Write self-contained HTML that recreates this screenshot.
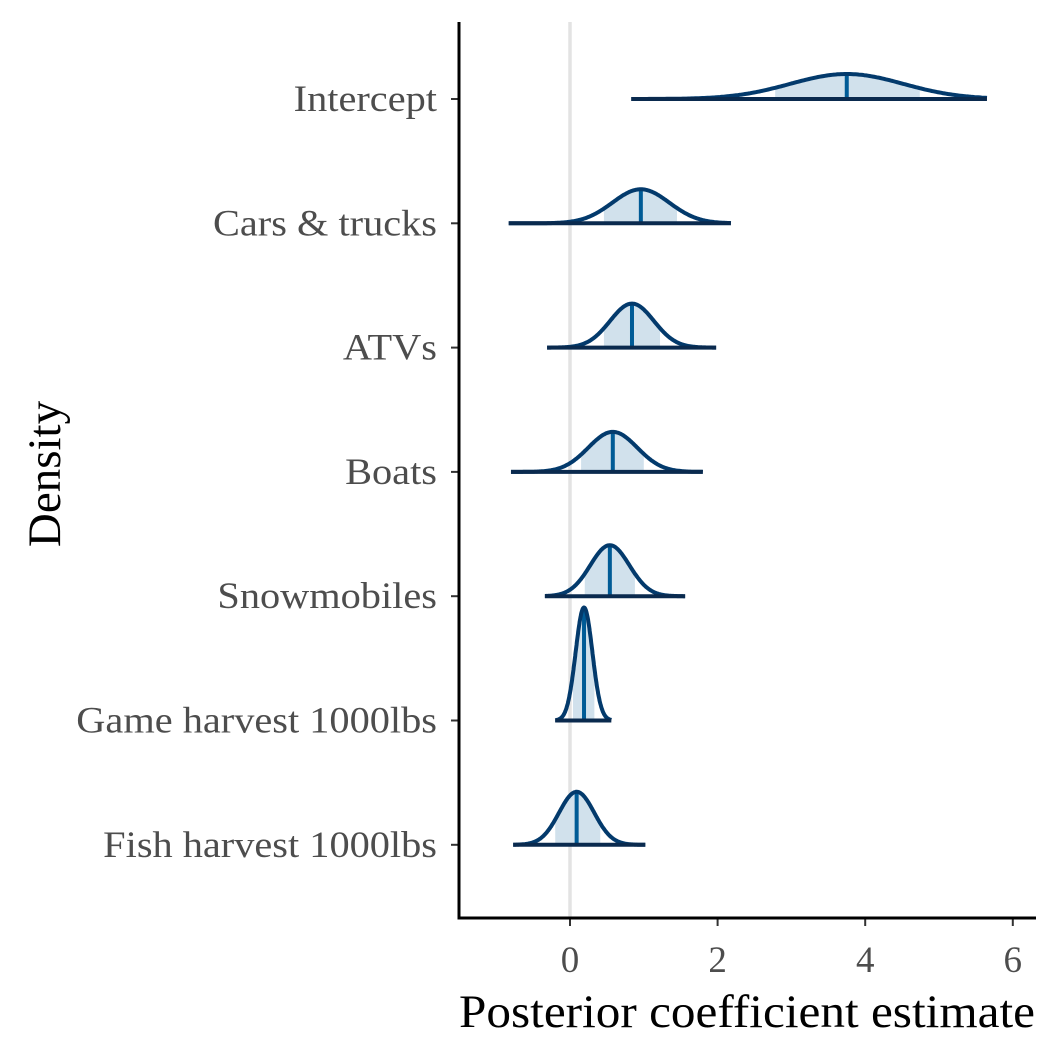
<!DOCTYPE html>
<html><head><meta charset="utf-8"><style>
html,body{margin:0;padding:0;background:#fff;width:1062px;height:1062px;overflow:hidden}
text{font-family:"Liberation Serif",serif}
</style></head><body>
<svg id="chart" width="1062" height="1062" viewBox="0 0 1062 1062" xmlns="http://www.w3.org/2000/svg">
<g id="grid"></g><g id="ridges"></g><g id="axes"></g>
</svg>
<script>
const categories = ["Intercept","Cars & trucks","ATVs","Boats","Snowmobiles","Game harvest 1000lbs","Fish harvest 1000lbs"];
const medians = [3.75, 0.96, 0.84, 0.58, 0.54, 0.19, 0.09];
const lower80 = [2.78, 0.46, 0.46, 0.15, 0.20, 0.04, -0.20];
const upper80 = [4.74, 1.45, 1.22, 1.00, 0.88, 0.33, 0.41];
const mins = [0.83, -0.83, -0.31, -0.80, -0.34, -0.20, -0.77];
const maxs = [5.65, 2.18, 1.98, 1.80, 1.56, 0.56, 1.02];
const peakHeights = [25, 34, 44, 40, 51, 113, 53];
const xTicks = [0, 2, 4, 6];

const NS = "http://www.w3.org/2000/svg";
const x = v => 570 + v * 73.8;
const y = i => 99 + i * 124.3;
function mk(tag, attrs, parent){const e=document.createElementNS(NS,tag);for(const k in attrs)e.setAttribute(k,attrs[k]);parent.appendChild(e);return e;}
const grid=document.getElementById('grid'), ridges=document.getElementById('ridges'), axes=document.getElementById('axes');

let z=mk('line',{x1:x(0),x2:x(0),y1:22,y2:918,stroke:'#e3e3e3','stroke-width':3.5},grid);



categories.forEach((c,i)=>{
  const m=medians[i], sd=(upper80[i]-lower80[i])/2.56, h=peakHeights[i], b=y(i);
  const dens=v=>h*Math.exp(-0.5*Math.pow((v-m)/sd,2));
  const g=mk('g',{},ridges);
  
  
  let fp='M'+x(lower80[i])+','+b;
  for(let k=0;k<=80;k++){const v=lower80[i]+(upper80[i]-lower80[i])*k/80;fp+=' L'+x(v).toFixed(1)+','+(b-dens(v)).toFixed(1);}
  fp+=' L'+x(upper80[i])+','+b+' Z';
  const f=mk('path',{d:fp,fill:'#d1e1ec'},g);
  
  
  const ml=mk('line',{x1:x(m),x2:x(m),y1:b,y2:b-dens(m),stroke:'#005b96','stroke-width':4},g);
  
  
  let op='';
  for(let k=0;k<=200;k++){const v=mins[i]+(maxs[i]-mins[i])*k/200;op+=(k?' L':'M')+x(v).toFixed(1)+','+(b-dens(v)).toFixed(1);}
  const o=mk('path',{d:op,fill:'none',stroke:'#033a6c','stroke-width':4,'stroke-linejoin':'round'},g);
  
  
  const bl=mk('line',{x1:x(mins[i]),x2:x(maxs[i]),y1:b,y2:b,stroke:'#0a2a4e','stroke-width':4},g);
  
  
  const t=mk('line',{x1:451,x2:459,y1:b,y2:b,stroke:'#333','stroke-width':2},axes);
  
  
  const lb=mk('text',{x:437,y:b+12,'text-anchor':'end','font-size':37,fill:'#4d4d4d'},axes);
  lb.textContent=c;
  
  
  const w=lb.getComputedTextLength();
  lb.setAttribute('textLength',(w*1.09).toFixed(1));
  lb.setAttribute('lengthAdjust','spacingAndGlyphs');
});

xTicks.forEach(v=>{
  const t=mk('line',{x1:x(v),x2:x(v),y1:918,y2:926,stroke:'#333','stroke-width':2},axes);
  
  
  const lb=mk('text',{x:x(v),y:972,'text-anchor':'middle','font-size':37,fill:'#4d4d4d'},axes);
  lb.textContent=v;
  
  
});

const ya=mk('line',{x1:459,x2:459,y1:22,y2:919.5,stroke:'#000','stroke-width':3},axes);


const xa=mk('line',{x1:457.5,x2:1036,y1:918,y2:918,stroke:'#000','stroke-width':3},axes);


const xt=mk('text',{x:459,y:1027,'font-size':47,fill:'#000',textLength:576,lengthAdjust:'spacingAndGlyphs'},axes);
xt.textContent='Posterior coefficient estimate';


const yt=mk('text',{x:0,y:0,'text-anchor':'middle','font-size':47,fill:'#000',transform:'translate(60,474) rotate(-90)'},axes);
yt.textContent='Density';


</script>
</body></html>
